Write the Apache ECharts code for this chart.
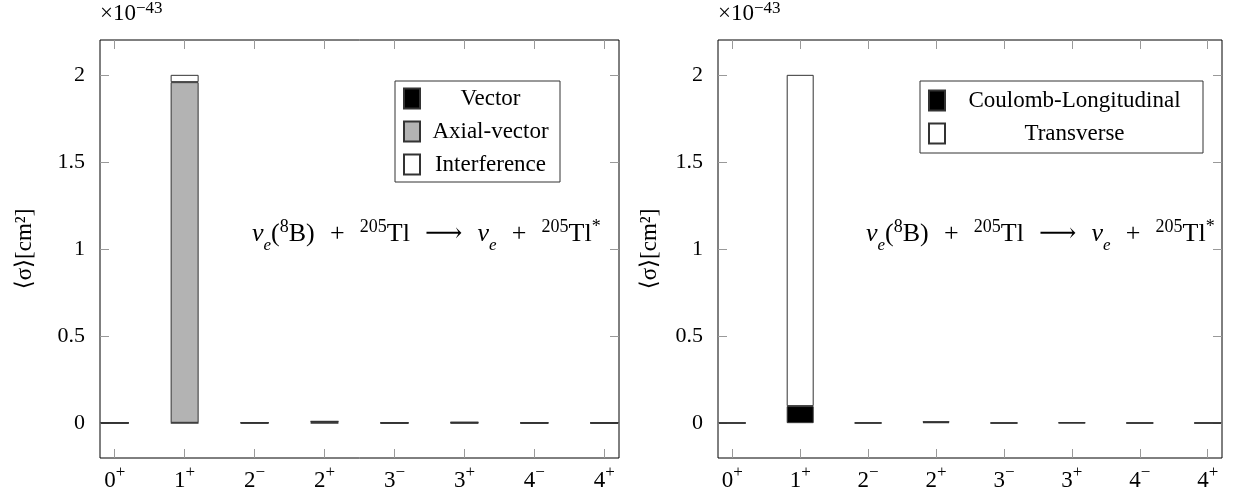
<!DOCTYPE html>
<html>
<head>
<meta charset="utf-8">
<script src="https://cdn.jsdelivr.net/npm/echarts@6/dist/echarts.min.js"></script>
<style>
html, body { margin: 0; padding: 0; background: #fff; }
#chart { width: 1237px; height: 498px; }
</style>
</head>
<body>
<div id="chart"></div>
<script>
// multipolarities on the x axis
var categories = ['0+', '1+', '2-', '2+', '3-', '3+', '4-', '4+'];
var catPos = [0, 1, 2, 3, 4, 5, 6, 7];
var yTicks = [0, 0.5, 1, 1.5, 2];

// left panel: vector / axial-vector / interference (units of 1e-43 cm^2)
var vectorVals = [0.001, 0.002, 0.001, 0.002, 0.001, 0.001, 0.001, 0.001];
var axialVals = [0.001, 1.956, 0.002, 0.008, 0.001, 0.004, 0.001, 0.001];
var interfVals = [0.0005, 0.042, 0.0005, 0.0005, 0.0005, 0.0005, 0.0005, 0.0005];

// right panel: coulomb-longitudinal / transverse
var clVals = [0.001, 0.098, 0.001, 0.006, 0.001, 0.002, 0.001, 0.001];
var trVals = [0.001, 1.902, 0.002, 0.004, 0.001, 0.003, 0.001, 0.001];

var SERIF = "'Liberation Serif', 'DejaVu Serif', serif";
var XMIN = -0.21, XMAX = 7.21, YMIN = -0.2, YMAX = 2.2;
var TOP = 40, HEIGHT = 418;

// frame boxes (left, width) for both panels
var frames = [[100, 519], [718, 504]];

var supRich = {
  n: { fontFamily: SERIF, fontSize: 23, color: '#000', lineHeight: 28, verticalAlign: 'bottom' },
  s: { fontFamily: SERIF, fontSize: 17, color: '#000', lineHeight: 28, verticalAlign: 'top', padding: [0, 0, 3, 0] }
};

function catLabel(v) {
  var c = categories[Math.round(v)];
  if (!c) return '';
  var sign = c.charAt(1) === '-' ? '\u2212' : '+';
  return '{n|' + c.charAt(0) + '}{s|' + sign + '}';
}

var tick = { show: true, inside: true, length: 9, lineStyle: { color: '#999', width: 1 } };

function frameAxes(gi, nameGap) {
  var xs = [
    {
      type: 'value', gridIndex: gi, min: XMIN, max: XMAX, position: 'bottom',
      axisLine: { show: false, onZero: false }, splitLine: { show: false },
      axisTick: Object.assign({ customValues: catPos }, tick),
      axisLabel: { customValues: catPos, formatter: catLabel, margin: 6, rich: supRich }
    },
    {
      type: 'value', gridIndex: gi, min: XMIN, max: XMAX, position: 'top',
      axisLine: { show: false, onZero: false }, splitLine: { show: false },
      axisTick: Object.assign({ customValues: catPos }, tick),
      axisLabel: { show: false }
    }
  ];
  var ys = [
    {
      type: 'value', gridIndex: gi, min: YMIN, max: YMAX, position: 'left',
      name: '\u27E8\u03C3\u27E9[cm\u00B2]', nameLocation: 'middle', nameGap: nameGap, nameRotate: 90,
      nameTextStyle: { fontFamily: SERIF, fontSize: 23, color: '#000' },
      axisLine: { show: false, onZero: false }, splitLine: { show: false },
      axisTick: Object.assign({ customValues: yTicks }, tick),
      axisLabel: {
        customValues: yTicks, margin: 15, fontFamily: SERIF, fontSize: 22, color: '#000',
        formatter: function (v) { return String(v); }
      }
    },
    {
      type: 'value', gridIndex: gi, min: YMIN, max: YMAX, position: 'right',
      axisLine: { show: false, onZero: false }, splitLine: { show: false },
      axisTick: Object.assign({ customValues: yTicks }, tick),
      axisLabel: { show: false }
    }
  ];
  return { xs: xs, ys: ys };
}

var leftAxes = frameAxes(0, 64);
var rightAxes = frameAxes(1, 57);

// data grids: category axis whose first/last category sit on XMIN/XMAX offsets
var grids = [];
frames.forEach(function (f) {
  grids.push({ left: f[0], top: TOP, width: f[1], height: HEIGHT, show: true,
    borderColor: '#000', borderWidth: 1, backgroundColor: 'transparent' });
});
frames.forEach(function (f) {
  var unit = f[1] / (XMAX - XMIN);
  grids.push({ left: f[0] - XMIN * unit, top: TOP, width: 7 * unit, height: HEIGHT });
});

function dataAxes(gi) {
  return {
    x: { type: 'category', gridIndex: gi, data: categories, boundaryGap: false, show: false },
    y: { type: 'value', gridIndex: gi, min: YMIN, max: YMAX, show: false, splitLine: { show: false } }
  };
}
var dL = dataAxes(2), dR = dataAxes(3);

function bar(name, vals, color, ai, stack, width) {
  return {
    name: name, type: 'bar', stack: stack, xAxisIndex: ai, yAxisIndex: ai,
    barWidth: width, data: vals,
    itemStyle: { color: color, borderColor: '#333', borderWidth: 1 },
    emphasis: { disabled: true }
  };
}

var legendRich = function (w) {
  return { t: { width: w, align: 'center', fontFamily: SERIF, fontSize: 23, lineHeight: 22, color: '#000' } };
};

var annRich = {
  sup: { fontFamily: SERIF, fontSize: 18, color: '#000', lineHeight: 32, verticalAlign: 'top' },
  sub: { fontFamily: SERIF, fontSize: 17, color: '#000', fontStyle: 'italic', lineHeight: 32, verticalAlign: 'bottom', padding: [0, 0, -4, 0] },
  m: { fontFamily: SERIF, fontSize: 26, color: '#000', lineHeight: 32, fontStyle: 'italic' },
  r: { fontFamily: SERIF, fontSize: 26, color: '#000', lineHeight: 32 }
};
var SP = '\u2002\u200A';
var annText = '{m|\u03BD}{sub|e}{r|(}{sup|8}{r|B)' + SP + '+' + SP + '}{sup|205}{r|Tl' + SP + '\u27F6' + SP + '}' +
  '{m|\u03BD}{sub|e}{r|' + SP + '+' + SP + '}{sup|205}{r|Tl}{sup|*}';

var multRich = {
  r: { fontFamily: SERIF, fontSize: 23, color: '#000', lineHeight: 28 },
  sup: { fontFamily: SERIF, fontSize: 17, color: '#000', lineHeight: 28, verticalAlign: 'top' }
};

var option = {
  animation: false,
  backgroundColor: '#fff',
  grid: grids,
  xAxis: leftAxes.xs.concat(rightAxes.xs, [dL.x, dR.x]),
  yAxis: leftAxes.ys.concat(rightAxes.ys, [dL.y, dR.y]),
  legend: [
    {
      data: ['Vector', 'Axial-vector', 'Interference'],
      orient: 'vertical', left: 395, top: 81,
      icon: 'rect', itemWidth: 16, itemHeight: 20, itemGap: 10,
      borderColor: '#333', borderWidth: 1, borderRadius: 0, padding: [6, 4, 6, 8],
      selectedMode: false,
      formatter: function (n) { return '{t|' + n + '}'; },
      textStyle: { rich: legendRich(131) }
    },
    {
      data: ['Coulomb-Longitudinal', 'Transverse'],
      orient: 'vertical', left: 920, top: 81,
      icon: 'rect', itemWidth: 16, itemHeight: 20, itemGap: 10,
      borderColor: '#333', borderWidth: 1, borderRadius: 0, padding: [8, 4, 8, 8],
      selectedMode: false,
      formatter: function (n) { return '{t|' + n + '}'; },
      textStyle: { rich: legendRich(249) }
    }
  ],
  graphic: [
    { type: 'text', left: 100, top: 0, style: { text: '{r|\u00D710}{sup|\u221243}', rich: multRich } },
    { type: 'text', left: 718, top: 0, style: { text: '{r|\u00D710}{sup|\u221243}', rich: multRich } },
    { type: 'text', left: 252, top: 218, style: { text: annText, rich: annRich } },
    { type: 'text', left: 866, top: 218, style: { text: annText, rich: annRich } }
  ],
  series: [
    bar('Vector', vectorVals, '#000', 4, 'L', 28),
    bar('Axial-vector', axialVals, '#b3b3b3', 4, 'L', 28),
    bar('Interference', interfVals, '#fff', 4, 'L', 28),
    bar('Coulomb-Longitudinal', clVals, '#000', 5, 'R', 27),
    bar('Transverse', trVals, '#fff', 5, 'R', 27)
  ]
};

var chart = echarts.init(document.getElementById('chart'));
chart.setOption(option);
</script>
</body>
</html>
